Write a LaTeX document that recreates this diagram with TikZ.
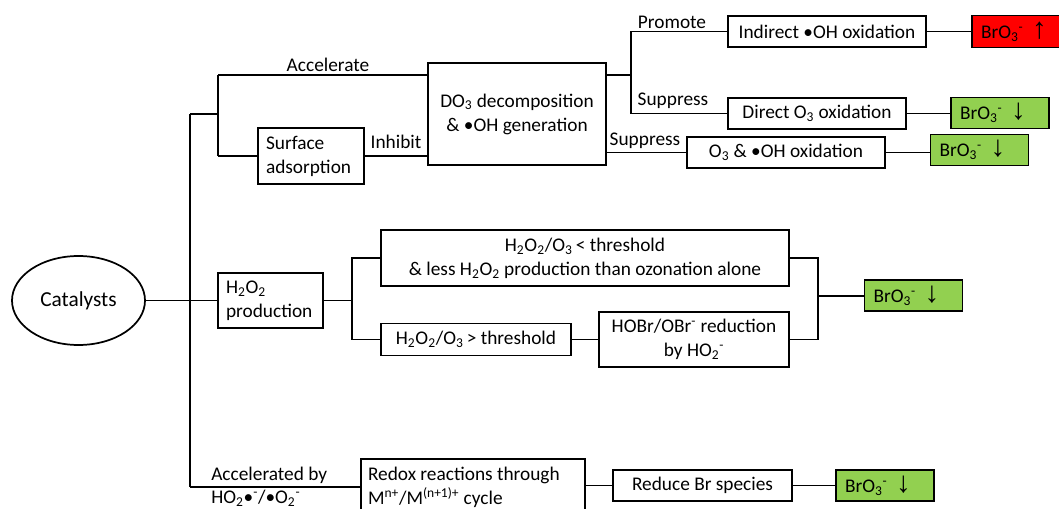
\documentclass[tikz,border=0pt]{standalone}
\usepackage{fontspec}
\setmainfont{Carlito}
\newfontfamily\arrfont{Liberation Sans}
\usetikzlibrary{shapes.geometric}
\definecolor{gfill}{HTML}{92D050}
\definecolor{rfill}{HTML}{FF0000}
\newcommand\pxu[1]{#1*0.75pt}
\newcommand\dnarr{{\arrfont\fontsize{22}{18}\selectfont ↓}}
\newcommand\uparr{{\arrfont\fontsize{22}{18}\selectfont ↑}}
\begin{document}
\begin{tikzpicture}[x=0.75pt,y=-0.75pt,
  font=\fontsize{14.5}{18}\selectfont,
  box/.style={draw, line width=1.3pt, inner sep=0pt, align=center},
  lbox/.style={box, align=flush left, inner xsep=\pxu{8}},
  res/.style={box, align=flush left, inner xsep=\pxu{9}, text width=\pxu{80}, minimum height=\pxu{31}},
  ln/.style={line width=1pt},
  lab/.style={inner sep=0pt}]
\useasboundingbox (0,0) rectangle (1059,509);
\clip (0,0) rectangle (1059,509);
% nodes
\node[box, ellipse, minimum width=\pxu{133}, minimum height=\pxu{89}, font=\fontsize{16}{18}\selectfont] (cat) at (78.5,300.5) {Catalysts};
\node[lbox, text width=\pxu{90}, minimum height=\pxu{56}] (surf) at (311,156) {Surface\\adsorption};
\node[box, minimum width=\pxu{178}, minimum height=\pxu{102}] (do3) at (517,114) {DO\textsubscript{3} decomposition\\\& •OH generation};
\node[box, minimum width=\pxu{198}, minimum height=\pxu{31}] (ind) at (827,31.5) {Indirect •OH oxidation};
\node[res, fill=rfill, text width=\pxu{85}, minimum height=\pxu{32}] (red) at (1023.5,31.5) {BrO\textsubscript{3}\textsuperscript{-} \ \uparr};
\node[box, minimum width=\pxu{178}, minimum height=\pxu{31}] (dir) at (817,113.5) {Direct O\textsubscript{3} oxidation};
\node[res, fill=gfill] (g1) at (1000,113) {BrO\textsubscript{3}\textsuperscript{-} \ \dnarr};
\node[box, minimum width=\pxu{198}, minimum height=\pxu{31}] (o3) at (786,152.5) {O\textsubscript{3} \& •OH oxidation};
\node[res, fill=gfill] (g2) at (979.5,150) {BrO\textsubscript{3}\textsuperscript{-} \ \dnarr};
\node[lbox, text width=\pxu{89}, minimum height=\pxu{55}] (h2o2) at (270.5,300.5) {H\textsubscript{2}O\textsubscript{2}\\production};
\node[box, minimum width=\pxu{408}, minimum height=\pxu{56}] (thrlt) at (585,258) {H\textsubscript{2}O\textsubscript{2}/O\textsubscript{3}\,< threshold\\\& less H\textsubscript{2}O\textsubscript{2} production than ozonation alone};
\node[box, minimum width=\pxu{190}, minimum height=\pxu{32}] (thrgt) at (476,339.5) {H\textsubscript{2}O\textsubscript{2}/O\textsubscript{3}\,> threshold};
\node[box, minimum width=\pxu{190}, minimum height=\pxu{55}] (hobr) at (694,339.5) {HOBr/OBr\textsuperscript{-} reduction\\by HO\textsubscript{2}\textsuperscript{-}};
\node[res, fill=gfill] (g3) at (913.5,295.5) {BrO\textsubscript{3}\textsuperscript{-} \ \dnarr};
\node[lbox, inner xsep=\pxu{7}, text width=\pxu{210}, minimum height=\pxu{57}] (redox) at (473,487.5) {Redox reactions through\\M\textsuperscript{n+}/M\textsuperscript{(n+1)+} cycle};
\node[box, minimum width=\pxu{179}, minimum height=\pxu{31}] (reduce) at (702.5,485.5) {Reduce Br species};
\node[res, fill=gfill] (g4) at (885,485.5) {BrO\textsubscript{3}\textsuperscript{-} \ \dnarr};
% labels
\node[lab] (lacc) at (328,65) {Accelerate};
\node[lab] (linh) at (396,142) {Inhibit};
\node[lab] (lpro) at (672,22) {Promote};
\node[lab] (lsup1) at (673,101) {Suppress};
\node[lab] (lsup2) at (645,141) {Suppress};
\node[lab, anchor=west] (lacb) at (211,475) {Accelerated by};
\node[lab, anchor=west] (lho2) at (211,498) {HO\textsubscript{2}•\textsuperscript{-}/•O\textsubscript{2}\textsuperscript{-}};
% coordinates
\coordinate (t1) at (190,114);
\coordinate (t2) at (190,487);
\coordinate (a1) at (218,114);
\coordinate (a2) at (218,75);
\coordinate (a3) at (218,156);
\coordinate (b1) at (631,75);
\coordinate (c1) at (352,300.5);
\coordinate (d1) at (818,296);
% connectors
\draw[ln] (cat.east) -- (h2o2.west);
\draw[ln] (t1) -- (t2);
\draw[ln] (t1) -- (a1);
\draw[ln] (a2) -- (a3);
\draw[ln] (a2) -- (a2 -| do3.west);
\draw[ln] (a3) -- (surf.west);
\draw[ln] (surf.east) -- (surf.east -| do3.west);
\draw[ln] (do3.east |- b1) -- (b1);
\draw[ln] (ind.west) -| (b1) |- (dir.west);
\draw[ln] (do3.east |- o3.west) -- (o3.west);
\draw[ln] (ind.east) -- (red.west);
\draw[ln] (dir.east) -- (dir.east -| g1.west);
\draw[ln] (o3.east) -- (o3.east -| g2.west);
\draw[ln] (h2o2.east) -- (c1);
\draw[ln] (thrlt.west) -| (c1) |- (thrgt.west);
\draw[ln] (thrgt.east) -- (hobr.west);
\draw[ln] (thrlt.east) -| (d1) |- (hobr.east);
\draw[ln] (d1) -- (d1 -| g3.west);
\draw[ln] (t2) -- (t2 -| redox.west);
\draw[ln] (reduce.west -| redox.east) -- (reduce.west);
\draw[ln] (reduce.east) -- (g4.west);
\end{tikzpicture}
\end{document}
